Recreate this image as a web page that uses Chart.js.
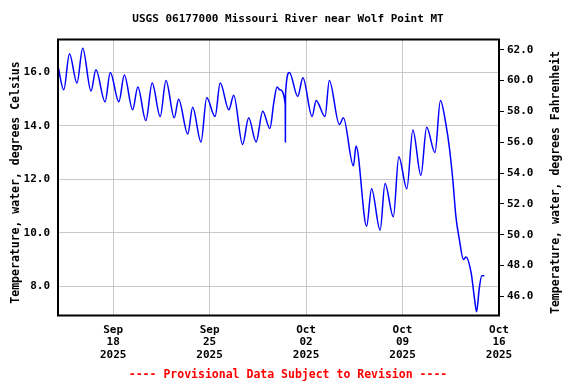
<!DOCTYPE html>
<html>
<head>
<meta charset="utf-8">
<script src="https://cdn.jsdelivr.net/npm/chart.js@4/dist/chart.umd.min.js"></script>
<style>
  html, body { margin: 0; padding: 0; background: #fff; }
</style>
</head>
<body>
<canvas id="wolf_point_temp" width="576" height="384"></canvas>
<script>
// readings (water temperature, deg C)
const startTime = '2025-09-14T00:00'
const times = [
  '2025-09-14T00:15', '2025-09-14T10:00', '2025-09-14T20:00',
  '2025-09-15T09:00', '2025-09-15T19:00',
  '2025-09-16T09:30', '2025-09-16T18:00',
  '2025-09-17T10:00', '2025-09-17T19:00',
  '2025-09-18T10:00', '2025-09-18T19:30',
  '2025-09-19T10:00', '2025-09-19T19:00',
  '2025-09-20T09:00', '2025-09-20T20:00',
  '2025-09-21T10:00', '2025-09-21T20:00',
  '2025-09-22T10:30', '2025-09-22T18:00',
  '2025-09-23T10:00', '2025-09-23T18:30',
  '2025-09-24T09:00', '2025-09-24T19:00',
  '2025-09-25T09:30', '2025-09-25T18:30',
  '2025-09-26T09:30', '2025-09-26T18:00',
  '2025-09-27T09:30', '2025-09-27T20:00',
  '2025-09-28T09:00', '2025-09-28T20:30',
  '2025-09-29T09:00', '2025-09-29T16:00', '2025-09-29T21:30',
  '2025-09-30T02:30', '2025-09-30T11:45', '2025-09-30T12:00', '2025-09-30T12:15', '2025-09-30T19:00',
  '2025-10-01T09:30', '2025-10-01T18:30',
  '2025-10-02T10:30', '2025-10-02T17:30',
  '2025-10-03T09:00', '2025-10-03T16:30',
  '2025-10-04T10:00', '2025-10-04T17:00',
  '2025-10-05T10:30', '2025-10-05T15:00',
  '2025-10-06T09:30', '2025-10-06T18:00',
  '2025-10-07T09:00', '2025-10-07T17:30',
  '2025-10-08T08:00', '2025-10-08T17:30',
  '2025-10-09T07:30', '2025-10-09T18:00',
  '2025-10-10T08:00', '2025-10-10T18:00',
  '2025-10-11T08:30', '2025-10-11T18:00',
  '2025-10-12T04:00', '2025-10-12T09:30', '2025-10-12T15:30', '2025-10-12T21:00',
  '2025-10-13T03:00', '2025-10-13T10:00', '2025-10-13T14:30', '2025-10-13T23:30',
  '2025-10-14T05:00', '2025-10-14T09:00', '2025-10-14T13:30', '2025-10-14T18:00', '2025-10-14T22:30'
]
const tempC = [
  16.2, 15.35, 16.7,
  15.6, 16.9,
  15.3, 16.1,
  14.9, 16.0,
  14.9, 15.9,
  14.6, 15.45,
  14.2, 15.6,
  14.35, 15.7,
  14.3, 15.0,
  13.7, 14.7,
  13.4, 15.05,
  14.35, 15.6,
  14.6, 15.15,
  13.3, 14.3,
  13.4, 14.55,
  13.9, 14.9, 15.45,
  15.35, 14.8, 13.4, 15.2, 16.0,
  15.1, 15.8,
  14.35, 14.95,
  14.35, 15.7,
  14.05, 14.3,
  12.5, 13.25,
  10.25, 11.65,
  10.1, 11.85,
  10.6, 12.85,
  11.65, 13.85,
  12.15, 13.95,
  13.0, 14.95,
  14.0, 13.2, 12.0, 10.6,
  9.75, 9.0, 9.1, 8.5,
  7.6, 7.05, 7.9, 8.4, 8.4
]

// x axis: days since Sep 14
const tickDays = [4, 11, 18, 25, 32]
const tickLabels = [
  ['Sep', '18', '2025'],
  ['Sep', '25', '2025'],
  ['Oct', '02', '2025'],
  ['Oct', '09', '2025'],
  ['Oct', '16', '2025']
]

const MONO = '"DejaVu Sans Mono", "Liberation Mono", monospace'
const GRID = '#c8c8c8'

const t0 = Date.parse(startTime)
const points = times.map((t, i) => ({ x: (Date.parse(t) - t0) / 86400000, y: tempC[i] }))

// frame round the plot and the two vertical axis titles (both read upward)
const framePlugin = {
  id: 'frame',
  afterDraw(chart) {
    const { ctx, chartArea: a } = chart
    ctx.save()
    ctx.strokeStyle = '#000'
    ctx.lineWidth = 2
    ctx.strokeRect(a.left, a.top, a.right - a.left, a.bottom - a.top)

    ctx.fillStyle = '#000'
    ctx.font = 'bold 11.5px ' + MONO
    ctx.textAlign = 'center'
    ctx.textBaseline = 'middle'
    const mid = (a.top + a.bottom) / 2 + 5
    ctx.save()
    ctx.translate(16, mid)
    ctx.rotate(-Math.PI / 2)
    ctx.fillText('Temperature, water, degrees Celsius', 0, 0)
    ctx.restore()
    ctx.translate(556, mid)
    ctx.rotate(-Math.PI / 2)
    ctx.fillText('Temperature, water, degrees Fahrenheit', 0, 0)
    ctx.restore()
  }
}

const ctx = document.getElementById('wolf_point_temp').getContext('2d')

new Chart(ctx, {
  type: 'line',
  data: {
    datasets: [{
      label: 'Temperature',
      data: points,
      borderColor: '#0000ff',
      borderWidth: 1.5,
      pointRadius: 0,
      cubicInterpolationMode: 'monotone',
      fill: false
    }]
  },
  options: {
    responsive: false,
    animation: false,
    devicePixelRatio: 1,
    layout: { padding: 0 },
    scales: {
      x: {
        type: 'linear',
        min: 0,
        max: 32,
        afterBuildTicks: s => { s.ticks = tickDays.map(v => ({ value: v })) },
        afterFit: s => { s.height = 50.7 },
        ticks: {
          autoSkip: false,
          maxRotation: 0,
          padding: 8,
          color: '#000',
          font: { family: MONO, size: 11, weight: 'bold', lineHeight: 1.14 },
          callback: (v, i) => tickLabels[i]
        },
        grid: { color: GRID, drawTicks: false },
        border: { display: false }
      },
      y: {
        position: 'left',
        min: 6.91,
        max: 17.23,
        afterFit: s => { s.width = 58 },
        ticks: {
          stepSize: 2,
          includeBounds: false,
          padding: 8,
          color: '#000',
          font: { family: MONO, size: 11, weight: 'bold' },
          callback: v => v.toFixed(1)
        },
        grid: { color: GRID, drawTicks: false },
        border: { display: false }
      },
      y2: {
        position: 'right',
        min: 44.75,
        max: 62.67,
        afterFit: s => { s.width = 77 },
        ticks: {
          stepSize: 2,
          includeBounds: false,
          padding: 3,
          color: '#000',
          font: { family: MONO, size: 11, weight: 'bold' },
          callback: v => v.toFixed(1)
        },
        grid: { drawOnChartArea: false, drawTicks: true, tickLength: 5, color: '#000' },
        border: { display: false }
      }
    },
    plugins: {
      legend: { display: false },
      tooltip: { enabled: false },
      title: {
        display: true,
        text: 'USGS 06177000 Missouri River near Wolf Point MT',
        color: '#000',
        font: { family: MONO, size: 11, weight: 'bold' },
        padding: { top: 12.7, bottom: 13.6 }
      },
      subtitle: {
        display: true,
        position: 'bottom',
        text: '---- Provisional Data Subject to Revision ----',
        color: '#ff0000',
        font: { family: MONO, size: 11.5, weight: 'bold' },
        padding: { top: 2, bottom: 2 }
      }
    }
  },
  plugins: [framePlugin]
})
</script>
</body>
</html>
